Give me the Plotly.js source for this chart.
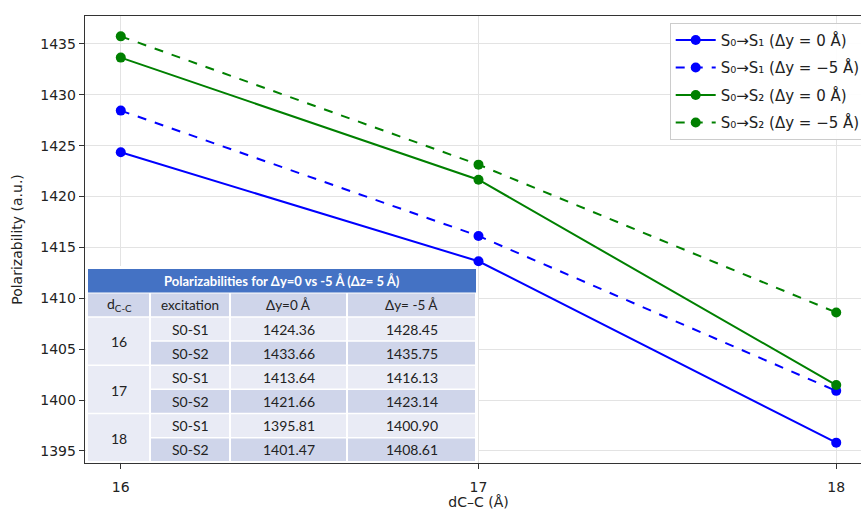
<!DOCTYPE html>
<html><head><meta charset="utf-8">
<script src="https://cdn.plot.ly/plotly-3.0.1.min.js"></script>
<style>html,body{margin:0;padding:0;overflow:hidden;background:#fff}#chart{width:900px;height:510px}</style>
</head><body><div id="chart"></div>
<script>
// ---- data ----
const dCC = [16, 17, 18];
const s01_dy0 = [1424.36, 1413.64, 1395.81];
const s01_dy5 = [1428.45, 1416.13, 1400.90];
const s02_dy0 = [1433.66, 1421.66, 1401.47];
const s02_dy5 = [1435.75, 1423.14, 1408.61];
const seriesNames = ['S\u2080\u2192S\u2081 (\u0394y = 0 \u00c5)', 'S\u2080\u2192S\u2081 (\u0394y = \u22125 \u00c5)',
                     'S\u2080\u2192S\u2082 (\u0394y = 0 \u00c5)', 'S\u2080\u2192S\u2082 (\u0394y = \u22125 \u00c5)'];
const yTicks = [1395, 1400, 1405, 1410, 1415, 1420, 1425, 1430, 1435];
const xTicks = [16, 17, 18];
const tableTitle = 'Polarizabilities for \u0394y=0 vs -5 \u00c5 (\u0394z= 5 \u00c5)';
const tableHeaders = ['d<sub>C-C</sub>', 'excitation', '\u0394y=0 \u00c5', '\u0394y= -5 \u00c5'];
const excitations = ['S0-S1', 'S0-S2'];

// ---- layout geometry ----
const W = 900, H = 510, ML = 85, MR = 28, MT = 16, MB = 47;
const PW = W - ML - MR, PH = H - MT - MB;
const px = x => (x - ML) / PW;
const py = y => (H - MB - y) / PH;

const traces = [
  {y: s01_dy0, color: '#0000ff', dash: 'solid'},
  {y: s01_dy5, color: '#0000ff', dash: 'dash'},
  {y: s02_dy0, color: '#008000', dash: 'solid'},
  {y: s02_dy5, color: '#008000', dash: 'dash'}
].map((s, i) => ({
  type: 'scatter', mode: 'lines+markers', x: dCC, y: s.y, name: seriesNames[i],
  legendgroup: 'g' + i,
  line: {color: s.color, width: 2, dash: s.dash},
  marker: {color: s.color, size: 10}
}));

// ---- table built from the arrays ----
const shapes = [], annotations = [];
const colX = [88, 150, 230, 347, 476];
const titleTop = 269, titleBot = 292.5, rowH = 24.15;
const font = {family: 'Lato, "Open Sans", sans-serif', size: 13.5, color: '#222'};
const cellFont = {family: font.family, size: 14, color: '#222'};
function rect(x0, y0, x1, y1, color) {
  shapes.push({type: 'rect', xref: 'paper', yref: 'paper', x0: px(x0), x1: px(x1), y0: py(y1), y1: py(y0),
    fillcolor: color, line: {width: 0}, layer: 'above'});
}
function text(t, xc, yc, f) {
  annotations.push({xref: 'paper', yref: 'paper', x: px(xc), y: py(yc), text: t, showarrow: false,
    xanchor: 'center', yanchor: 'middle', font: f || font});
}
rect(86, 266, 478, 462.5, '#ffffff');
rect(colX[0], titleTop, colX[4], titleBot, '#4472C4');
text('<b>' + tableTitle + '</b>', (colX[0] + colX[4]) / 2, (titleTop + titleBot) / 2,
  {family: font.family, size: 13, color: '#ffffff'});
const rowTop = r => titleBot + 1 + r * rowH;
// header row
for (let c = 0; c < 4; c++) {
  rect(colX[c] + (c ? 1 : 0), rowTop(0), colX[c + 1] - 1, rowTop(1) - 1.5, '#CFD5EA');
  text(tableHeaders[c], (colX[c] + colX[c + 1]) / 2, (rowTop(0) + rowTop(1)) / 2 - 1, c ? font : cellFont);
}
const vals0 = [s01_dy0, s02_dy0], vals5 = [s01_dy5, s02_dy5];
dCC.forEach((d, k) => {
  const r0 = 1 + 2 * k;
  rect(colX[0], rowTop(r0), colX[1] - 1, rowTop(r0 + 2) - 1.5, '#E9EBF5');
  text(String(d), (colX[0] + colX[1]) / 2, (rowTop(r0) + rowTop(r0 + 2)) / 2, cellFont);
  excitations.forEach((e, j) => {
    const r = r0 + j;
    const fill = j === 0 ? '#E9EBF5' : '#CFD5EA';
    const cells = [e, vals0[j][k].toFixed(2), vals5[j][k].toFixed(2)];
    for (let c = 1; c < 4; c++) {
      rect(colX[c] + 1, rowTop(r), colX[c + 1] - 1, rowTop(r + 1) - 1.5, fill);
      text(cells[c - 1], (colX[c] + colX[c + 1]) / 2, (rowTop(r) + rowTop(r + 1)) / 2 - 0.5, cellFont);
    }
  });
});

const axisFont = {family: '"DejaVu Sans", sans-serif', size: 14, color: '#222'};
const layout = {
  width: W, height: H,
  margin: {l: ML, r: MR, t: MT, b: MB, pad: 0},
  paper_bgcolor: '#fff', plot_bgcolor: '#fff',
  showlegend: true,
  xaxis: {
    range: [15.9, 18.1], tickvals: xTicks, ticktext: xTicks.map(String),
    showgrid: true, gridcolor: '#e3e3e3', gridwidth: 1, zeroline: false,
    showline: true, linecolor: '#333', linewidth: 1.3, mirror: true,
    ticks: 'outside', ticklen: 5, tickcolor: '#333', tickfont: axisFont,
    ticklabelstandoff: 6,
    title: {text: 'dC\u2013C (\u00c5)', font: axisFont, standoff: 11}
  },
  yaxis: {
    range: [1393.81, 1437.75], tickvals: yTicks, ticktext: yTicks.map(String),
    showgrid: true, gridcolor: '#e3e3e3', gridwidth: 1, zeroline: false,
    showline: true, linecolor: '#333', linewidth: 1.3, mirror: true,
    ticks: 'outside', ticklen: 5, tickcolor: '#333', tickfont: axisFont,
    title: {text: 'Polarizability (a.u.)', font: axisFont, standoff: 14}
  },
  legend: {
    x: 0.992, y: 0.985, xanchor: 'right', yanchor: 'top',
    bgcolor: 'rgba(255,255,255,0.9)', bordercolor: '#cccccc', borderwidth: 1,
    font: {family: '"DejaVu Sans", sans-serif', size: 15, color: '#222'},
    itemwidth: 40,
    traceorder: 'grouped', tracegroupgap: 5
  },
  shapes: shapes, annotations: annotations
};
Plotly.newPlot('chart', traces, layout, {displayModeBar: false, staticPlot: true});
</script></body></html>
